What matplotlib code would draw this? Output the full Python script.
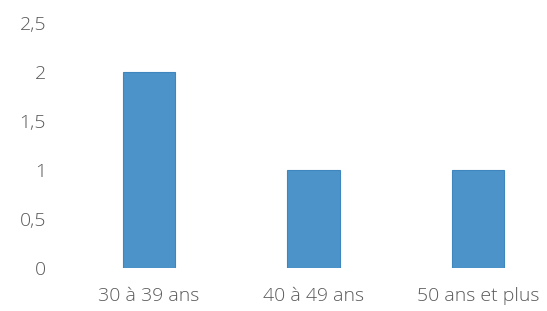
import matplotlib
matplotlib.use("Agg")
import matplotlib.pyplot as plt

categories = ["30 à 39 ans", "40 à 49 ans", "50 ans et plus"]
values = [2, 1, 1]
yticks = [0, 0.5, 1, 1.5, 2, 2.5]
ytick_labels = ["0", "0,5", "1", "1,5", "2", "2,5"]

plt.rcParams['font.family'] = ['Open Sans', 'DejaVu Sans']

fig = plt.figure(figsize=(5.47, 3.11), dpi=100)
ax = fig.add_axes([60/547, 43/311, (547-60)/547, 245/311])
x = list(range(len(categories)))
ax.bar(x, values, width=0.32, color="#4B93C9", edgecolor="#3F86BF", linewidth=0.8)
ax.set_xlim(-0.541, 2.419)
ax.set_ylim(0, 2.5)
ax.set_yticks(yticks)
ax.set_yticklabels(ytick_labels, fontweight='light')
ax.set_xticks(x)
ax.set_xticklabels(categories, fontweight='light')
for s in ax.spines.values():
    s.set_visible(False)
ax.tick_params(axis='both', length=0, colors="#595959", labelsize=14)
ax.tick_params(axis='y', pad=10)
ax.tick_params(axis='x', pad=14)
fig.savefig("out.png", dpi=100)
